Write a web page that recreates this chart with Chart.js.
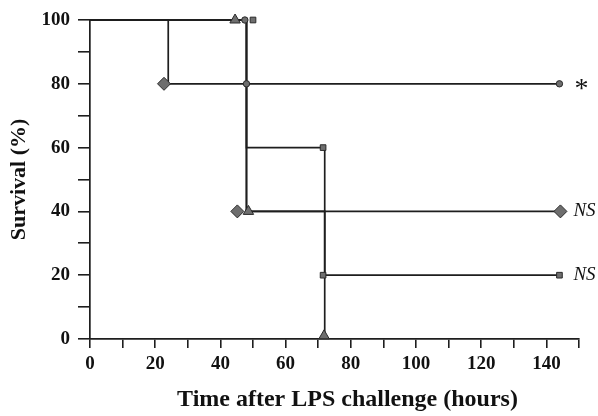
<!DOCTYPE html>
<html>
<head>
<meta charset="utf-8">
<script src="https://cdn.jsdelivr.net/npm/chart.js@4.4.1/dist/chart.umd.min.js"></script>
<style>
  html, body { margin: 0; padding: 0; background: #fff; }
  #wrap { width: 598px; height: 416px; }
</style>
</head>
<body>
<div id="wrap"><canvas id="c" width="598" height="416"></canvas></div>
<script>
// ---- Data (Kaplan-Meier step curves: time in hours, survival %) ----
const circleTimes = [0, 48, 144];
const circleSurv = [100, 80, 80];
const diamondTimes = [0, 24, 48, 144];
const diamondSurv = [100, 80, 40, 40];
const squareTimes = [0, 48, 72, 144];
const squareSurv = [100, 60, 20, 20];
const triangleTimes = [0, 48, 72];
const triangleSurv = [100, 40, 0];

// marker positions (as drawn, slightly offset where symbols overlap)
const circleMarkT = [47.5, 48, 144];
const circleMarkS = [100, 80, 80];
const diamondMarkT = [22.7, 45.2, 144.3];
const diamondMarkS = [80, 40, 40];
const squareMarkT = [50, 71.5, 71.5, 144];
const squareMarkS = [100, 60, 20, 20];
const triangleMarkT = [44.5, 48.6, 71.8];
const triangleMarkS = [100, 40, 1];

// significance labels at curve ends
const sigLabels = ['*', 'NS', 'NS'];
const sigLevels = [80, 40, 20];

const xTickLabels = [0, 20, 40, 60, 80, 100, 120, 140];
const yTickLabels = [0, 20, 40, 60, 80, 100];
const xTitle = 'Time after LPS challenge (hours)';
const yTitle = 'Survival (%)';

const pts = (xs, ys) => xs.map((x, i) => ({x: x, y: ys[i]}));

const LINE = '#1e1e1e';
const FILL = '#6e6e6e';
const EDGE = '#2a2a2a';

function stepSet(xs, ys) {
  return {type: 'line', data: pts(xs, ys), stepped: 'before', borderColor: LINE, borderWidth: 1.7,
          pointRadius: 0, fill: false, clip: false, order: 2};
}
function markSet(xs, ys, style, r) {
  return {type: 'scatter', data: pts(xs, ys), pointStyle: style, pointRadius: r,
          backgroundColor: FILL, borderColor: EDGE, borderWidth: 1, clip: false, order: 1};
}

const textPlugin = {
  id: 'texts',
  afterDatasetsDraw(chart) {
    const ctx = chart.ctx, x = chart.scales.x, y = chart.scales.y;
    ctx.save();
    ctx.fillStyle = '#111';
    ctx.textBaseline = 'middle';
    sigLabels.forEach((t, i) => {
      const px = x.getPixelForValue(144);
      const py = y.getPixelForValue(sigLevels[i]);
      if (t === '*') {
        ctx.font = '28px "Liberation Serif"';
        ctx.textAlign = 'center';
        ctx.fillText(t, px + 22, py + 6);
      } else {
        ctx.font = 'italic 19px "Liberation Serif"';
        ctx.textAlign = 'left';
        ctx.fillText(t, px + 14, py);
      }
    });
    // x axis title (centred slightly right of the plot centre, as in the original)
    ctx.font = 'bold 24px "Liberation Serif"';
    ctx.textAlign = 'center';
    ctx.fillText(xTitle, (chart.chartArea.left + chart.chartArea.right) / 2 + 13, 400);
    ctx.restore();
  }
};

const tickFont = {family: '"Liberation Serif"', size: 19, weight: 'bold'};

new Chart(document.getElementById('c'), {
  data: {
    datasets: [
      stepSet(circleTimes, circleSurv),
      stepSet(diamondTimes, diamondSurv),
      stepSet(squareTimes, squareSurv),
      stepSet(triangleTimes, triangleSurv),
      markSet(circleMarkT, circleMarkS, 'circle', 3.2),
      markSet(diamondMarkT, diamondMarkS, 'rectRot', 6.5),
      markSet(squareMarkT, squareMarkS, 'rect', 4),
      markSet(triangleMarkT, triangleMarkS, 'triangle', 6)
    ]
  },
  options: {
    responsive: false,
    animation: false,
    events: [],
    layout: {padding: {left: 0, right: 19, top: 20, bottom: 0}},
    plugins: {legend: {display: false}, tooltip: {enabled: false}},
    scales: {
      x: {
        type: 'linear', min: 0, max: 150,
        afterFit(s) { s.height = 77; },
        grid: {display: true, drawOnChartArea: false, drawTicks: true, tickLength: 9, color: LINE, lineWidth: 1.6},
        border: {display: true, color: LINE, width: 1.7},
        ticks: {
          stepSize: 10, autoSkip: false, maxRotation: 0, padding: 5, color: '#111', font: tickFont,
          callback: v => xTickLabels.includes(v) ? String(v) : ''
        },
        title: {display: false}
      },
      y: {
        type: 'linear', min: 0, max: 100,
        afterFit(s) { s.width = 90; },
        grid: {display: true, drawOnChartArea: false, drawTicks: true, tickLength: 12, color: LINE, lineWidth: 1.6},
        border: {display: true, color: LINE, width: 1.7},
        ticks: {
          stepSize: 10, autoSkip: false, padding: 8, color: '#111', font: tickFont,
          callback: v => yTickLabels.includes(v) ? String(v) : ''
        },
        title: {display: true, text: yTitle, color: '#111',
                font: {family: '"Liberation Serif"', size: 22, weight: 'bold'}, padding: {top: 6, bottom: 0}}
      }
    }
  },
  plugins: [textPlugin]
});
</script>
</body>
</html>
